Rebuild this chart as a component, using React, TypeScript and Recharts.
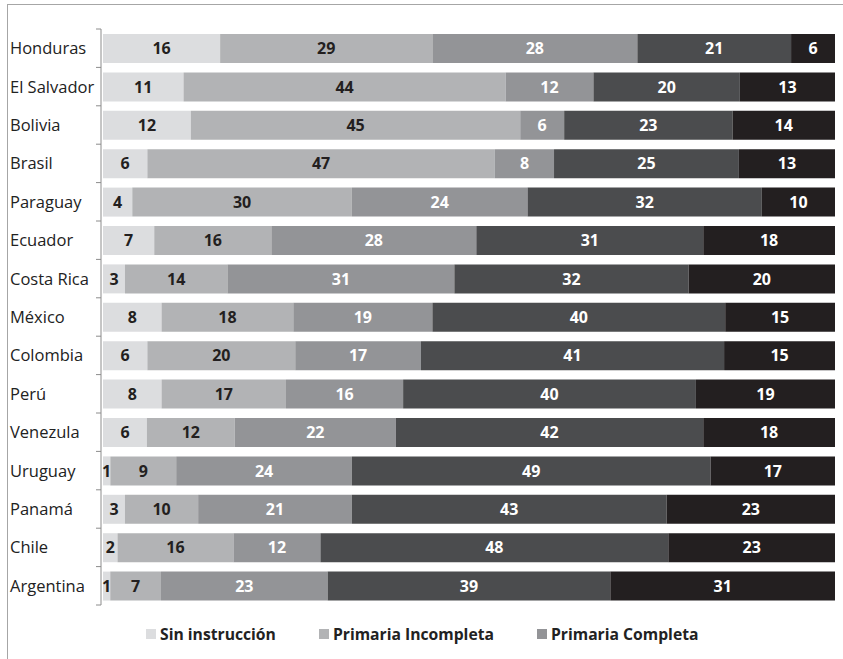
import React from "react";
import { BarChart, Bar, XAxis, YAxis, LabelList } from "recharts";

const countries = ["Honduras", "El Salvador", "Bolivia", "Brasil", "Paraguay", "Ecuador", "Costa Rica", "México", "Colombia", "Perú", "Venezula", "Uruguay", "Panamá", "Chile", "Argentina"];
const sinInstruccion = [16, 11, 12, 6, 4, 7, 3, 8, 6, 8, 6, 1, 3, 2, 1];
const primariaIncompleta = [29, 44, 45, 47, 30, 16, 14, 18, 20, 17, 12, 9, 10, 16, 7];
const primariaCompleta = [28, 12, 6, 8, 24, 28, 31, 19, 17, 16, 22, 24, 21, 12, 23];
const secundariaIncompleta = [21, 20, 23, 25, 32, 31, 32, 40, 41, 40, 42, 49, 43, 48, 39];
const secundariaCompleta = [6, 13, 14, 13, 10, 18, 20, 15, 15, 19, 18, 17, 23, 23, 31];

const seriesNames = ["Sin instrucción", "Primaria Incompleta", "Primaria Completa", "Secundaria Incompleta", "Secundaria Completa"];
const seriesKeys = ["s1", "s2", "s3", "s4", "s5"];
const seriesColors = ["#dcdddf", "#b2b3b5", "#939497", "#4b4c4e", "#231f20"];
const labelColors = ["#231f20", "#231f20", "#ffffff", "#ffffff", "#ffffff"];
const legendCount = 3;

const data = countries.map((c, i) => ({
  country: c,
  s1: sinInstruccion[i],
  s2: primariaIncompleta[i],
  s3: primariaCompleta[i],
  s4: secundariaIncompleta[i],
  s5: secundariaCompleta[i],
}));

const W = 843;
const H = 659;
const TOP = 29;
const BOTTOM = 54;
const PLOT_H = H - TOP - BOTTOM;
const BAND = PLOT_H / countries.length;
const AXIS_X = 101;

const CountryTick = (props: any) => {
  const { y, payload, index } = props;
  return (
    <g>
      <text x={10} y={y} dy={6} textAnchor="start" fontSize={16.5} fill="#222">
        {payload.value}
      </text>
      <line x1={AXIS_X - 5} x2={AXIS_X} y1={y - BAND / 2} y2={y - BAND / 2} stroke="#8c8c8c" strokeWidth={1} />
      {index === countries.length - 1 && (
        <line x1={AXIS_X - 5} x2={AXIS_X} y1={y + BAND / 2} y2={y + BAND / 2} stroke="#8c8c8c" strokeWidth={1} />
      )}
    </g>
  );
};

export default function App() {
  return (
    <div style={{ position: "absolute", left: 0, top: 0, width: W, height: H, fontFamily: "'Open Sans', sans-serif", background: "#fff" }}>
      <div style={{ position: "absolute", left: 7, top: 4, right: 0, bottom: 0, borderTop: "1.5px solid #a6a6a6", borderLeft: "1.5px solid #a6a6a6" }} />
      <div style={{ position: "absolute", left: 0, top: 0 }}>
        <BarChart
          width={W}
          height={H}
          data={data}
          layout="vertical"
          stackOffset="expand"
          margin={{ top: TOP, right: 8, bottom: BOTTOM, left: 0 }}
          barSize={29}
        >
          <XAxis type="number" hide domain={[0, 1]} padding={{ left: 2, right: 0 }} />
          <YAxis
            type="category"
            dataKey="country"
            width={AXIS_X}
            axisLine={{ stroke: "#8c8c8c", strokeWidth: 1 }}
            tickLine={false}
            tick={<CountryTick />}
            interval={0}
          />
          {seriesKeys.map((k, i) => (
            <Bar key={k} dataKey={k} name={seriesNames[i]} stackId="a" fill={seriesColors[i]} isAnimationActive={false}>
              <LabelList dataKey={k} position="center" fill={labelColors[i]} fontSize={16} fontWeight="bold" />
            </Bar>
          ))}
        </BarChart>
      </div>
      <div style={{ position: "absolute", left: 146, top: 624, display: "flex", gap: 43, alignItems: "center" }}>
        {seriesNames.slice(0, legendCount).map((n, i) => (
          <div key={n} style={{ display: "flex", alignItems: "center" }}>
            <span style={{ display: "inline-block", width: 10, height: 10, background: seriesColors[i], marginRight: 4 }} />
            <span style={{ fontSize: 15.7, fontWeight: "bold", color: "#222", lineHeight: "20px" }}>{n}</span>
          </div>
        ))}
      </div>
    </div>
  );
}
